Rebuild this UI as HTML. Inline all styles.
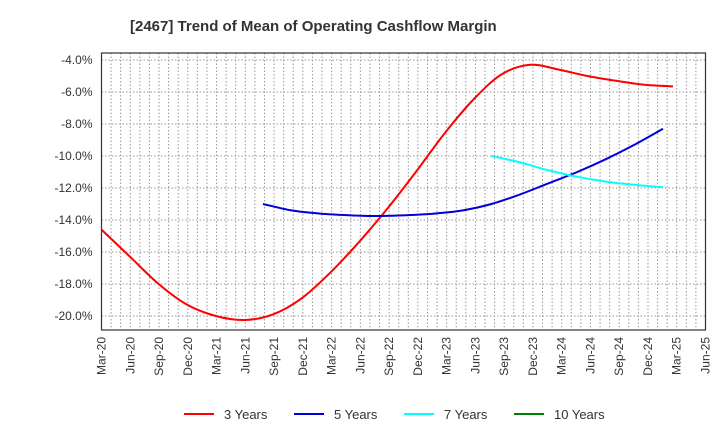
<!DOCTYPE html>
<html><head><meta charset="utf-8"><style>
body{margin:0;background:#fff;font-family:"Liberation Sans",sans-serif}
</style></head><body>
<svg width="720" height="440" xmlns="http://www.w3.org/2000/svg" font-family="Liberation Sans, sans-serif">
<text x="130" y="31" font-size="15" font-weight="bold" fill="#333">[2467]  Trend of Mean of Operating Cashflow Margin</text>
<g id="grid"></g>
<g id="axes"></g>
<g id="series"></g>
<g id="legend"></g>
</svg>
<script>
const xLabels=["Mar-20","Jun-20","Sep-20","Dec-20","Mar-21","Jun-21","Sep-21","Dec-21","Mar-22","Jun-22","Sep-22","Dec-22","Mar-23","Jun-23","Sep-23","Dec-23","Mar-24","Jun-24","Sep-24","Dec-24","Mar-25","Jun-25"];
const yTicks=[-4,-6,-8,-10,-12,-14,-16,-18,-20];
const s3=[-14.6,-16.3,-18.0,-19.3,-20.0,-20.25,-19.9,-18.9,-17.3,-15.4,-13.3,-11.0,-8.6,-6.5,-4.9,-4.3,-4.6,-5.0,-5.3,-5.55,-5.65];
const s3Start=0;
const s5=[-13.0,-13.4,-13.6,-13.7,-13.75,-13.7,-13.6,-13.4,-13.0,-12.4,-11.7,-11.0,-10.2,-9.3,-8.3];
const s5Start=5.65;
const s7=[-10.0,-10.4,-10.9,-11.3,-11.6,-11.8,-11.95];
const s7Start=13.65;
const s10=[];
const s10Start=0;
const NS="http://www.w3.org/2000/svg";
const L=101.5,R=705.5,T=53,B=330;
const X=q=>L+(R-L)*q/(xLabels.length-1);
const Xd=q=>L+q*(673-L)/20;
const Y=v=>60+(v-(-4))*(-16);
function mk(tag,attrs,parent){const e=document.createElementNS(NS,tag);for(const k in attrs)e.setAttribute(k,attrs[k]);document.getElementById(parent).appendChild(e);return e;}
for(let m=1;m<63;m++){const x=L+(R-L)*m/63;
const g=mk('line',{x1:x,x2:x,y1:T,y2:B,stroke:'#999','stroke-dasharray':'1.5,2','stroke-width':1},'grid');

}
yTicks.forEach(v=>{const y=Y(v);
const g=mk('line',{x1:L,x2:R,y1:y,y2:y,stroke:'#999','stroke-dasharray':'1.5,2','stroke-width':1},'grid');


const t=mk('text',{x:L-9,y:y+4,'text-anchor':'end','font-size':12,fill:'#333'},'axes');t.textContent=v.toFixed(1)+'%';

});
const fr=mk('rect',{x:L,y:T,width:R-L,height:B-T,fill:'none',stroke:'#333','stroke-width':1.2},'axes');


xLabels.forEach((l,i)=>{const x=X(i);
const t=mk('text',{x:0,y:0,'text-anchor':'end','font-size':12,fill:'#333',transform:`translate(${x+4},${B+7}) rotate(-90)`},'axes');t.textContent=l;

});
function path(vals,start){if(vals.length<2)return '';const p=vals.map((v,i)=>[Xd(start+i),Y(v)]);let d=`M${p[0][0]},${p[0][1]}`;
for(let i=0;i<p.length-1;i++){const p0=p[i-1]||p[i],p1=p[i],p2=p[i+1],p3=p[i+2]||p2;
d+=` C${p1[0]+(p2[0]-p0[0])/6},${p1[1]+(p2[1]-p0[1])/6} ${p2[0]-(p3[0]-p1[0])/6},${p2[1]-(p3[1]-p1[1])/6} ${p2[0]},${p2[1]}`;}return d;}
const series=[[s3,s3Start,'#ff0000','3 Years','series-3-years'],[s5,s5Start,'#0000dd','5 Years','series-5-years'],[s7,s7Start,'#00ffff','7 Years','series-7-years'],[s10,s10Start,'#008000','10 Years','series-10-years']];
series.forEach(([v,s,c,n,id],k)=>{
if(v.length>1){const e=mk('path',{d:path(v,s),fill:'none',stroke:c,'stroke-width':2},'series');

}
const lx=184+k*110;
const ln=mk('line',{x1:lx,x2:lx+30,y1:414,y2:414,stroke:c,'stroke-width':2},'legend');


const t=mk('text',{x:lx+40,y:419,'font-size':13,fill:'#333'},'legend');t.textContent=n;

});
</script>
</body></html>
